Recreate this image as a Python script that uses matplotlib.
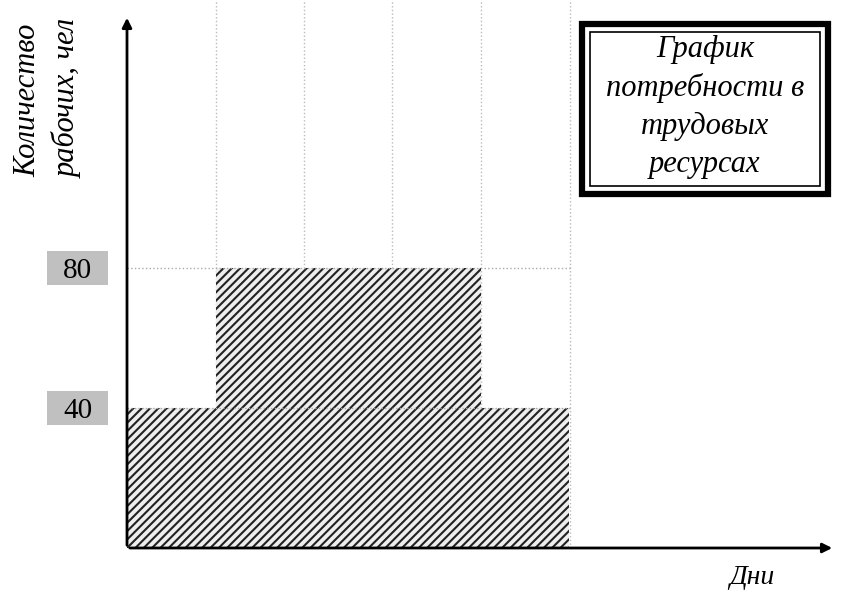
import matplotlib
matplotlib.use("Agg")
import matplotlib.pyplot as plt
from matplotlib.patches import Rectangle

# workers needed per day
days = [0, 1, 2, 3, 4]
workers = [40, 80, 80, 80, 40]
ytick_vals = [40, 80]
ytick_labels = ["40", "80"]
title_lines = ["График", "потребности в", "трудовых", "ресурсах"]

W, H = 845, 604
plt.rcParams["font.family"] = ["Liberation Serif", "DejaVu Serif"]
plt.rcParams["hatch.linewidth"] = 1.5
fig = plt.figure(figsize=(W / 100, H / 100), dpi=100)

# axes: left at y axis, bottom at x axis, reaching the top of the picture
x0, y0 = 127, 548
ax = fig.add_axes([x0 / W, (H - y0) / H, (835 - x0) / W, y0 / H])
ax.set_xlim(0, (835 - x0) / 88.5)
ax.set_ylim(0, y0 / 3.5)

ax.bar(days, workers, width=1, align="edge", facecolor="#eeeeee",
       edgecolor="#222222", hatch="////", linewidth=0)

# dotted grid
for d in range(1, len(days) + 1):
    ax.axvline(d, color="#bbbbbb", linestyle=":", linewidth=1, zorder=0.5)
for v in ytick_vals:
    ax.plot([0, len(days)], [v, v], color="#aaaaaa", linestyle=":", linewidth=1, zorder=3)

for s in ax.spines.values():
    s.set_visible(False)
ax.set_xticks([])
ax.set_yticks([])

# grey boxes with y values
ytr = ax.get_yaxis_transform()
bw = (108 - 47) / (835 - x0)
for v, lab in zip(ytick_vals, ytick_labels):
    ax.add_patch(Rectangle((-(x0 - 47) / (835 - x0), v - 4.8), bw, 9.6, transform=ytr,
                           facecolor="#c0c0c0", edgecolor="none", clip_on=False))
    ax.text(-(x0 - 77.5) / (835 - x0), v, lab, transform=ytr, fontsize=21,
            ha="center", va="center_baseline")

# arrows for axes
arr = dict(arrowstyle="-|>", color="black", lw=2, mutation_scale=14)
ax.annotate("", xy=(0, (y0 - 15) / y0), xytext=(0, 0), xycoords="axes fraction",
            arrowprops=arr, annotation_clip=False)
ax.annotate("", xy=(1, 0), xytext=(0, 0), xycoords="axes fraction",
            arrowprops=arr, annotation_clip=False)

# axis labels
fig.text(28 / W, 1 - 100 / H, "Количество", rotation=90, fontsize=22,
         style="italic", ha="center", va="center")
fig.text(68 / W, 1 - 98 / H, "рабочих, чел", rotation=90, fontsize=22,
         style="italic", ha="center", va="center")
fig.text(752 / W, 1 - 578 / H, "Дни", fontsize=20, style="italic",
         ha="center", va="center")

# title box with double border
bx0, by0, bx1, by1 = 582, 24, 828, 194
fig.patches.append(Rectangle((bx0 / W, 1 - by1 / H), (bx1 - bx0) / W, (by1 - by0) / H,
                             transform=fig.transFigure, facecolor="white",
                             edgecolor="black", linewidth=4.5))
fig.patches.append(Rectangle(((bx0 + 8) / W, 1 - (by1 - 8) / H), (bx1 - bx0 - 16) / W,
                             (by1 - by0 - 16) / H, transform=fig.transFigure,
                             facecolor="none", edgecolor="black", linewidth=1.2))
for i, line in enumerate(title_lines):
    fig.text(705 / W, 1 - (50 + 38 * i) / H, line, fontsize=22, style="italic",
             ha="center", va="center")

fig.savefig("out.png", dpi=100)
